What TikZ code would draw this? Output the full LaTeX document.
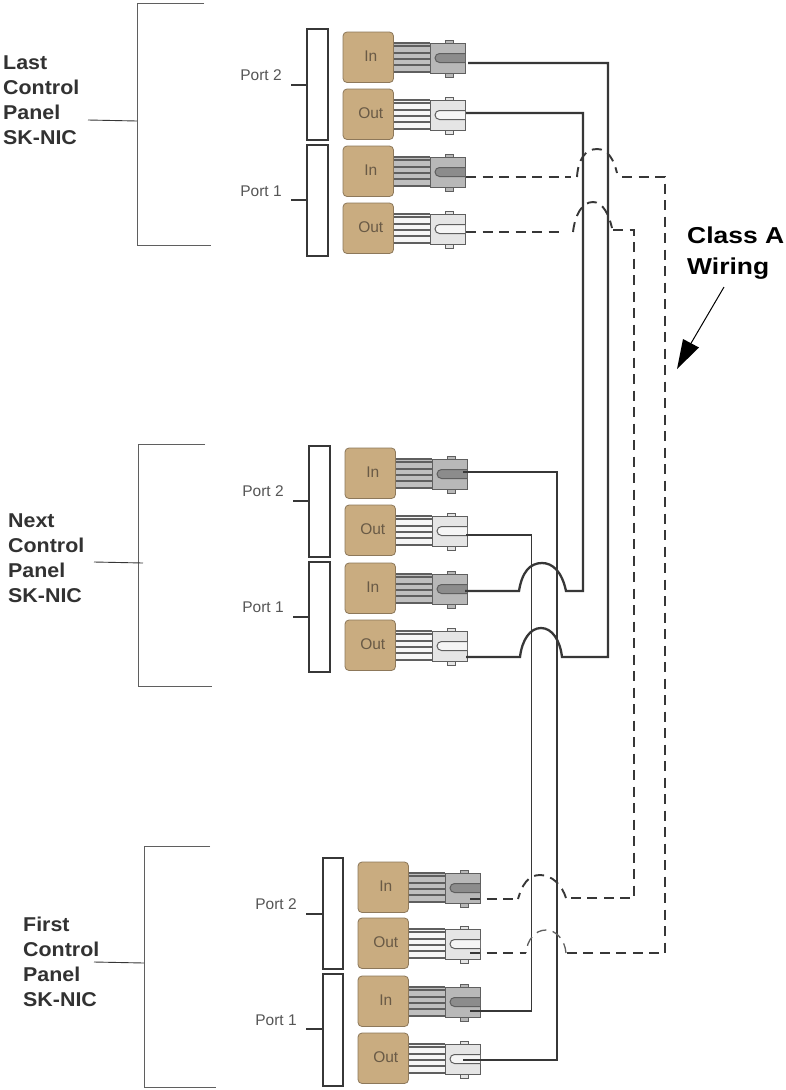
\documentclass[tikz,border=0pt]{standalone}
\usepackage{fontspec}
\usepackage{graphicx}
\setmainfont{Liberation Sans}
\definecolor{tanbox}{RGB}{201,172,128}
\definecolor{tantxt}{RGB}{105,90,70}
\definecolor{ln}{RGB}{55,55,55}
\definecolor{ln2}{RGB}{95,95,95}
\definecolor{txt}{RGB}{50,50,50}
\definecolor{porttxt}{RGB}{85,85,85}
\tikzset{x=1pt,y=-1pt,
 panelbox/.style={draw=tanbox!70!black,line width=0.8pt,fill=tanbox,rounded corners=4pt,minimum width=50.5pt,minimum height=50.5pt,inner sep=0pt,outer sep=0pt,text=tantxt,font=\fontsize{15.5}{17}\selectfont},
 portbar/.style={inner sep=0pt,outer sep=0pt,anchor=north west},
 portedge/.style={draw=ln,line width=2pt,fill=white,line join=miter},
 portlabel/.style={font=\fontsize{15.5}{17}\selectfont,text=porttxt,inner sep=0pt},
 sidelabel/.style={text=txt,inner sep=0pt,anchor=north west},
 bracket/.style={draw=ln2,line width=1pt},
 leader/.style={draw=ln,line width=0.9pt},
 tick/.style={draw=ln,line width=1.2pt},
 solidwire/.style={draw=ln,line width=2.3pt,line join=miter},
 thinwire/.style={draw=ln,line width=1.7pt,line join=miter},
 dashwire/.style={draw=ln,line width=1.9pt,dash pattern=on 10pt off 6.5pt},
 dashthin/.style={draw=ln2,line width=1.3pt,dash pattern=on 10pt off 6.5pt},
}
\newcommand{\sidetext}[4]{\scalebox{1.07}[1]{\fontsize{20}{25}\selectfont\bfseries\begin{tabular}{@{}l@{}}#1\\#2\\#3\\#4\end{tabular}}}
% #1 name, #2 x, #3 y (top left of box), #4 label, #5 stripe, #6 body, #7 inner U, #8 y of wire end, #9 x of wire end
\newcommand{\connector}[9]{%
 \node[panelbox,anchor=north west] (#1) at (#2,#3) {\raisebox{2.5pt}{\hspace{5pt}#4}};
 \fill[#5] (#2+51,#3+11) rectangle (#2+87,#3+40);
 \foreach \k in {11,14,21,27,33,40} {\draw[ln2,line width=1.1pt] (#2+51,#3+\k) -- (#2+87,#3+\k);}
 \draw[ln2,line width=1pt,fill=#6] (#2+102,#3+8) rectangle (#2+110,#3+11);
 \draw[ln2,line width=1pt,fill=#6] (#2+102,#3+41) rectangle (#2+110,#3+45);
 \draw[ln2,line width=1pt,fill=#6] (#2+87,#3+11) rectangle (#2+122,#3+41);
 \draw[ln2,line width=1pt,fill=#7] (#2+122,#3+21.5) -- (#2+96.5,#3+21.5) arc[start angle=270,end angle=90,radius=4.5] -- (#2+122,#3+30.5);
 \coordinate (#1w) at (#9,#8);
}
\newcommand{\incon}[5]{\connector{#1}{#2}{#3}{In}{black!25}{black!28}{black!45}{#4}{#5}}
\newcommand{\outcon}[5]{\connector{#1}{#2}{#3}{Out}{black!4}{black!10}{black!4}{#4}{#5}}
% #1 name, #2 x, #3 y, #4 width, #5 height
\newcommand{\portbar}[5]{%
 \draw[portedge] (#2,#3) rectangle (#2+#4,#3+#5);
 \node[portbar,minimum width=#4pt,minimum height=#5pt] (#1) at (#2,#3) {};
}
\begin{document}
\begin{tikzpicture}
\useasboundingbox[fill=white] (0,0) rectangle (786,1090);

% brackets
\draw[bracket] (204,3) -- (137,3) -- (137,245) -- (211,245);
\coordinate (tb) at (137,121);
\draw[leader] (88,120) -- (tb);
\draw[bracket] (205,444) -- (138,444) -- (138,686) -- (212,686);
\coordinate (mb) at (143,563);
\draw[leader] (94,562) -- (mb);
\draw[bracket] (210,846) -- (144,846) -- (144,1087) -- (216,1087);
\coordinate (bb) at (144,963);
\draw[leader] (94,962) -- (bb);

% side labels
\node[sidelabel,anchor=base west] (lastlbl) at (3,107.5) {\sidetext{Last}{Control}{Panel}{SK-NIC}};
\node[sidelabel,anchor=west] (nextlbl) at (8,560) {\sidetext{Next}{Control}{Panel}{SK-NIC}};
\node[sidelabel,anchor=west] (firstlbl) at (23,964) {\sidetext{First}{Control}{Panel}{SK-NIC}};

% port bars
\portbar{tp2}{306.5}{29}{21}{111}
\portbar{tp1}{306.5}{145}{21}{111}
\portbar{mp2}{309}{446}{20.5}{111}
\portbar{mp1}{309}{562}{20.5}{110}
\portbar{bp2}{322.5}{858}{20.5}{111}
\portbar{bp1}{322.5}{974}{20.5}{112}

% port labels and ticks
\node[portlabel] (tl2) at (261,75) {Port 2};
\node[portlabel] (tl1) at (261,191) {Port 1};
\node[portlabel] (ml2) at (263,491) {Port 2};
\node[portlabel] (ml1) at (263,607) {Port 1};
\node[portlabel] (bl2) at (276,904) {Port 2};
\node[portlabel] (bl1) at (276,1020) {Port 1};
\draw[tick] (291,85) -- (tp2.west |- 0,85);
\draw[tick] (291,200) -- (tp1.west |- 0,200);
\draw[tick] (293,501) -- (mp2.west |- 0,501);
\draw[tick] (293,617) -- (mp1.west |- 0,617);
\draw[tick] (306,914) -- (bp2.west |- 0,914);
\draw[tick] (306,1029) -- (bp1.west |- 0,1029);

% connectors
\incon{tin2}{343}{32}{63}{468}
\outcon{tout2}{343}{89}{113}{466}
\incon{tin1}{343}{146}{177}{466}
\outcon{tout1}{343}{203}{232}{466}
\incon{min2}{345}{448}{472}{463}
\outcon{mout2}{345}{505}{535}{466}
\incon{min1}{345}{563}{591}{465}
\outcon{mout1}{345}{620}{657}{466}
\incon{bin2}{358}{862}{899}{470}
\outcon{bout2}{358}{918}{953}{470}
\incon{bin1}{358}{976}{1011}{470}
\outcon{bout1}{358}{1033}{1060}{463}

% solid wires
\draw[thinwire] (min2w) -- (557,472) -- (557,1060) -- (bout1w);
\draw[thinwire] (mout2w) -- (531.5,535) -- (531.5,1011) -- (bin1w);
\draw[solidwire] (tin2w) -- (608,63) -- (608,657) -- (562,657)
  .. controls (560,640) and (552,628) .. (541,628)
  .. controls (530,628) and (522,640) .. (520,657) -- (mout1w);
\draw[solidwire] (tout2w) -- (583,113) -- (583,591) -- (566,591)
  .. controls (562,572) and (553,563) .. (542,563)
  .. controls (530,563) and (522,572) .. (519,591) -- (min1w);

% dashed wires
\draw[dashwire] (tin1w) -- (571,177);
\draw[dashwire] (577,177) .. controls (578,160) and (585,149) .. (597,149)
  .. controls (608,149) and (614,160) .. (617,173);
\draw[dashwire] (622,177) -- (665,177) -- (665,953) -- (625,953) -- (566,953);
\draw[dashthin] (566,953) .. controls (565,940) and (556,930) .. (546,930)
  .. controls (535,930) and (527,940) .. (526,953);
\draw[dashwire] (bout2w) -- (526,953);
\draw[dashwire] (tout1w) -- (565,232);
\draw[dashwire] (573,232) .. controls (575,215) and (582,202) .. (593,202)
  .. controls (603,202) and (609,215) .. (612,228);
\draw[dashwire] (613,230) -- (634,230) -- (634,898) -- (566,898);
\draw[dashwire] (566,898) .. controls (562,885) and (552,875) .. (540,875)
  .. controls (528,875) and (522,885) .. (518,899);
\draw[dashwire] (bin2w) -- (518,899);

% class A label
\node[text=black,inner sep=0pt,anchor=west] (classa) at (687,253) {\scalebox{1.15}[1]{\fontsize{23}{31}\selectfont\bfseries\begin{tabular}{@{}l@{}}Class A\\Wiring\end{tabular}}};
\coordinate (tip) at (677,369);
\draw[black,line width=1pt] (724,287) -- (690,345);
\fill[black] (tip) -- (683,339) -- (699,347.5) -- cycle;
\end{tikzpicture}
\end{document}
